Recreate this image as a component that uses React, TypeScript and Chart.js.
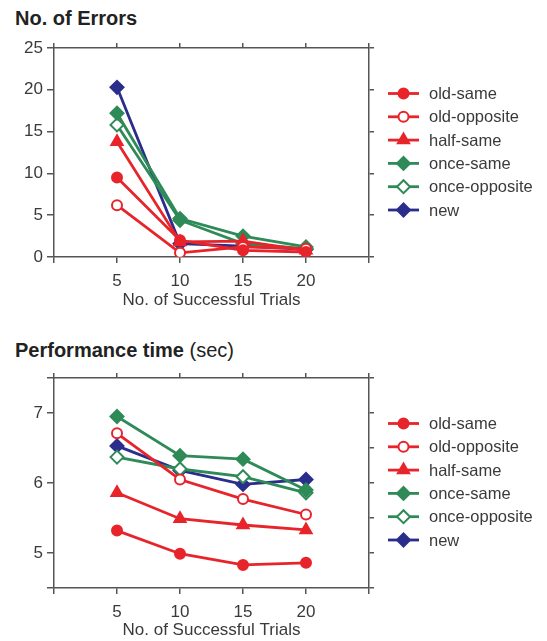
import React, { useEffect, useRef } from 'react';
import { Chart, registerables } from 'chart.js';

Chart.register(...registerables);

// ---------- data ----------
const trials = [5, 10, 15, 20];
const seriesNames = ['old-same', 'old-opposite', 'half-same', 'once-same', 'once-opposite', 'new'];

const errOldSame = [9.5, 2.0, 0.8, 0.6];
const errOldOpposite = [6.2, 0.5, 1.2, 1.0];
const errHalfSame = [13.8, 1.8, 1.9, 0.8];
const errOnceSame = [17.2, 4.6, 2.5, 1.2];
const errOnceOpposite = [15.8, 4.4, 1.6, 1.0];
const errNew = [20.3, 1.6, 1.3, 0.9];

const timeOldSame = [5.32, 4.99, 4.83, 4.86];
const timeOldOpposite = [6.71, 6.05, 5.77, 5.55];
const timeHalfSame = [5.86, 5.49, 5.4, 5.33];
const timeOnceSame = [6.95, 6.39, 6.34, 5.9];
const timeOnceOpposite = [6.37, 6.2, 6.09, 5.86];
const timeNew = [6.53, 6.18, 5.98, 6.05];

const errTicksLeft = [0, 5, 10, 15, 20, 25];
const errTicksRight = [0, 5, 10, 15, 20, 25];
const timeTicksLeft = [4.5, 5, 6, 7, 7.5];
const timeLabeled = [5, 6, 7];
const timeTicksRight = [4.5, 5, 5.5, 6, 6.5, 7, 7.5];
const xTicks = [0, 5, 10, 15, 20, 25];

// ---------- styles ----------
const RED = '#e8242b';
const GREEN = '#2e8a57';
const NAVY = '#2a2d8c';
const AXIS = '#555555';
const TEXT = '#3a3a3a';
const FONT = "'Liberation Sans', Arial, Helvetica, sans-serif";

const seriesColors = [RED, RED, RED, GREEN, GREEN, NAVY];
const seriesFill = [RED, '#ffffff', RED, GREEN, '#ffffff', NAVY];
const seriesMarkers = ['circle', 'circle', 'triangle', 'rectRot', 'rectRot', 'rectRot'];
const markerRadius = [5, 5, 6.5, 6.5, 6.5, 6.5];

function drawMarker(ctx: CanvasRenderingContext2D, style: string, x: number, y: number, r: number, fill: string, stroke: string) {
  ctx.beginPath();
  if (style === 'circle') {
    ctx.arc(x, y, r, 0, Math.PI * 2);
  } else if (style === 'triangle') {
    let rad = 0;
    const step = (Math.PI * 2) / 3;
    ctx.moveTo(x + Math.sin(rad) * r, y - Math.cos(rad) * r);
    rad += step;
    ctx.lineTo(x + Math.sin(rad) * r, y - Math.cos(rad) * r);
    rad += step;
    ctx.lineTo(x + Math.sin(rad) * r, y - Math.cos(rad) * r);
    ctx.closePath();
  } else {
    ctx.moveTo(x - r, y);
    ctx.lineTo(x, y - r);
    ctx.lineTo(x + r, y);
    ctx.lineTo(x, y + r);
    ctx.closePath();
  }
  ctx.fillStyle = fill;
  ctx.fill();
  ctx.lineWidth = 2;
  ctx.strokeStyle = stroke;
  ctx.stroke();
}

const sideLegend = {
  id: 'sideLegend',
  afterDraw(chart: any) {
    const { ctx, chartArea } = chart;
    ctx.save();
    chart.data.datasets.forEach((ds: any, i: number) => {
      const y = chartArea.top + 45.5 + i * 23.3;
      const x0 = chartArea.right + 19;
      const x1 = chartArea.right + 50;
      ctx.beginPath();
      ctx.moveTo(x0, y);
      ctx.lineTo(x1, y);
      ctx.lineWidth = 2.8;
      ctx.strokeStyle = ds.borderColor;
      ctx.stroke();
      drawMarker(ctx, ds.pointStyle, (x0 + x1) / 2, y, ds.pointRadius, ds.pointBackgroundColor, ds.borderColor);
      ctx.fillStyle = TEXT;
      ctx.font = `16.5px ${FONT}`;
      ctx.textAlign = 'left';
      ctx.textBaseline = 'middle';
      ctx.fillText(ds.label, chartArea.right + 60, y + 1);
    });
    ctx.restore();
  },
};

function makeDatasets(values: number[][]) {
  return seriesNames.map((name, i) => ({
    label: name,
    data: trials.map((t, j) => ({ x: t, y: values[i][j] })),
    borderColor: seriesColors[i],
    backgroundColor: seriesFill[i],
    pointBackgroundColor: seriesFill[i],
    pointBorderColor: seriesColors[i],
    pointStyle: seriesMarkers[i],
    pointRadius: markerRadius[i],
    pointHoverRadius: markerRadius[i],
    pointBorderWidth: 2,
    borderWidth: 2.8,
    tension: 0,
    fill: false,
  }));
}

const W = 547;
const AREA_LEFT = 54;
const AREA_RIGHT = 369;

function grid(len: number) {
  return {
    drawOnChartArea: false,
    drawTicks: true,
    tickLength: len,
    color: AXIS,
    tickColor: AXIS,
    lineWidth: 1.5,
    tickWidth: 1.5,
  };
}
const border = { display: true, color: AXIS, width: 1.5 };

function makeConfig(values: number[][], H: number, areaTop: number, areaBottom: number, yMin: number, yMax: number, leftTicks: number[], rightTicks: number[], isLabeled: (v: number) => boolean) {
  return {
    type: 'line',
    data: { datasets: makeDatasets(values) },
    options: {
      animation: false,
      responsive: false,
      maintainAspectRatio: false,
      layout: { padding: { top: areaTop - 5, right: W - AREA_RIGHT - 5, left: 0, bottom: 0 } },
      plugins: { legend: { display: false }, tooltip: { enabled: false }, title: { display: false } },
      scales: {
        x: {
          type: 'linear',
          position: 'bottom',
          min: 0,
          max: 25,
          border,
          grid: grid(6),
          afterBuildTicks: (s: any) => { s.ticks = xTicks.map((v) => ({ value: v })); },
          ticks: {
            autoSkip: false,
            maxRotation: 0,
            padding: 8,
            color: TEXT,
            font: { family: FONT, size: 17 },
            callback: (v: any) => (v === 0 || v === 25 ? '' : String(v)),
          },
          title: {
            display: true,
            text: 'No. of Successful Trials',
            color: TEXT,
            font: { family: FONT, size: 17 },
            padding: { top: 0, bottom: 0 },
          },
          afterFit: (s: any) => { s.height = H - areaBottom; s.paddingLeft = 0; s.paddingRight = 0; },
        },
        x2: {
          type: 'linear',
          position: 'top',
          min: 0,
          max: 25,
          border,
          grid: grid(5),
          afterBuildTicks: (s: any) => { s.ticks = xTicks.map((v) => ({ value: v })); },
          ticks: { display: false },
          afterFit: (s: any) => { s.height = 5; s.paddingLeft = 0; s.paddingRight = 0; },
        },
        y: {
          type: 'linear',
          position: 'left',
          min: yMin,
          max: yMax,
          border,
          grid: grid(7),
          afterBuildTicks: (s: any) => { s.ticks = leftTicks.map((v) => ({ value: v })); },
          ticks: {
            autoSkip: false,
            padding: 4,
            color: TEXT,
            font: { family: FONT, size: 17 },
            callback: (v: any) => (isLabeled(v) ? String(v) : ''),
          },
          afterFit: (s: any) => { s.width = AREA_LEFT; s.paddingTop = 0; s.paddingBottom = 0; },
        },
        y2: {
          type: 'linear',
          position: 'right',
          min: yMin,
          max: yMax,
          border,
          grid: grid(5),
          afterBuildTicks: (s: any) => { s.ticks = rightTicks.map((v) => ({ value: v })); },
          ticks: { display: false },
          afterFit: (s: any) => { s.width = 5; s.paddingTop = 0; s.paddingBottom = 0; },
        },
      },
    },
    plugins: [sideLegend],
  };
}

function Panel({ top, height, config }: { top: number; height: number; config: any }) {
  const ref = useRef<HTMLCanvasElement>(null);
  useEffect(() => {
    if (!ref.current) return;
    const chart = new Chart(ref.current, config);
    return () => chart.destroy();
  }, [config]);
  return (
    <canvas
      ref={ref}
      width={W}
      height={height}
      style={{ position: 'absolute', left: 0, top, width: W, height, display: 'block' }}
    />
  );
}

const errValues = [errOldSame, errOldOpposite, errHalfSame, errOnceSame, errOnceOpposite, errNew];
const timeValues = [timeOldSame, timeOldOpposite, timeHalfSame, timeOnceSame, timeOnceOpposite, timeNew];

const errConfig = makeConfig(errValues, 311, 48, 257, 0, 25, errTicksLeft, errTicksRight, () => true);
const timeConfig = makeConfig(timeValues, 311, 48, 258, 4.5, 7.5, timeTicksLeft, timeTicksRight, (v) => timeLabeled.includes(v));

const titleStyle: React.CSSProperties = {
  position: 'absolute',
  left: 15,
  fontFamily: FONT,
  fontSize: 20,
  lineHeight: '20px',
  color: '#222',
  whiteSpace: 'nowrap',
  margin: 0,
};

export default function App() {
  return (
    <div style={{ position: 'absolute', left: 0, top: 0, width: W, height: 641, background: '#fff' }}>
      <div style={{ ...titleStyle, top: 8 }}>
        <span style={{ fontWeight: 'bold' }}>No. of Errors</span>
      </div>
      <Panel top={0} height={311} config={errConfig} />
      <div style={{ ...titleStyle, top: 340 }}>
        <span style={{ fontWeight: 'bold' }}>Performance time</span>
        <span> (sec)</span>
      </div>
      <Panel top={330} height={311} config={timeConfig} />
    </div>
  );
}
